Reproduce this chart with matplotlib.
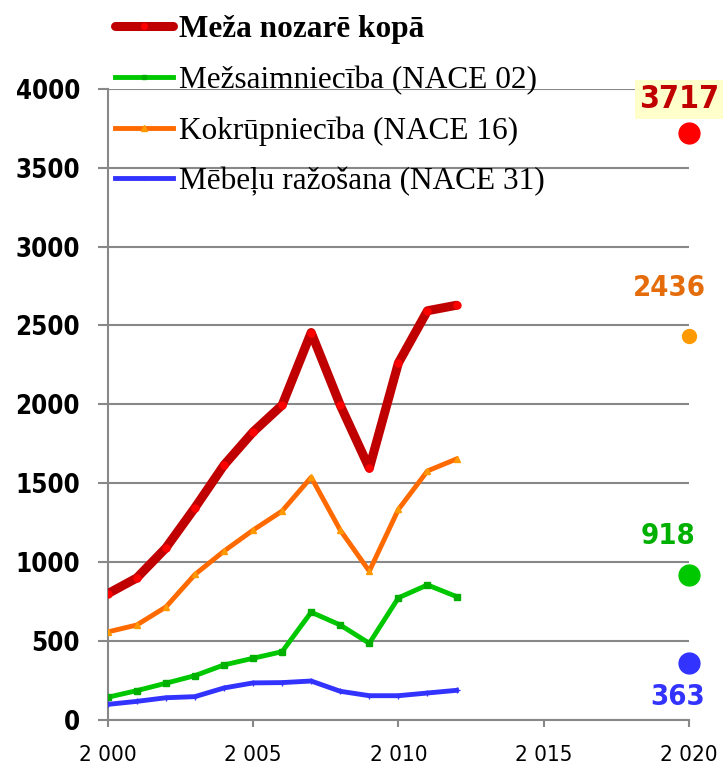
import numpy as np
import matplotlib
matplotlib.use("Agg")
import matplotlib.pyplot as plt
from matplotlib.ticker import FuncFormatter

years = list(range(2000, 2013))
kopa = [800, 900, 1090, 1345, 1615, 1825, 1995, 2455, 1995, 1595, 2262, 2593, 2628]
nace02 = [144, 186, 233, 281, 349, 391, 433, 683, 602, 486, 774, 856, 782]
nace16 = [558, 602, 716, 922, 1070, 1203, 1324, 1538, 1203, 943, 1334, 1578, 1654]
nace31 = [99, 118, 141, 148, 203, 235, 237, 247, 182, 154, 154, 171, 188]

target_year = 2020
targets = [3717, 918, 2436, 363]
labels = ["Meža nozarē kopā", "Mežsaimniecība (NACE 02)",
          "Kokrūpniecība (NACE 16)", "Mēbeļu ražošana (NACE 31)"]

cond = dict(family="DejaVu Sans", stretch="condensed")

fig = plt.figure(figsize=(7.23, 7.68), dpi=100)
ax = fig.add_axes([0.149, 0.0625, 0.804, 0.822])

# lines
l1, = ax.plot(years, kopa, color="#C00000", lw=6.5, marker="o", ms=5,
              mfc="#FF0000", mec="#FF0000", solid_capstyle="round", zorder=3)
l2, = ax.plot(years, nace02, color="#00C800", lw=3.5, marker="s", ms=4,
              mfc="#00B000", mec="#00B000", zorder=3)
l3, = ax.plot(years, nace16, color="#FF6A00", lw=3.5, marker="^", ms=5,
              mfc="#FF9900", mec="#FF9900", zorder=3)
l4, = ax.plot(years, nace31, color="#3333FF", lw=3.5, marker="+", ms=4,
              mec="#3333FF", zorder=3)

# 2020 targets
dot_cols = ["#FF0000", "#00C800", "#FF9900", "#3333FF"]
dot_sizes = [15, 15, 10, 15]
for v, c, s in zip(targets, dot_cols, dot_sizes):
    ax.plot([target_year], [v], "o", color=c, ms=s, clip_on=False, zorder=4)

ax.annotate(f"{targets[0]}", (target_year, targets[0]), xytext=(-10, 34),
            textcoords="offset pixels", ha="center", va="center",
            fontsize=23, fontweight="bold", color="#C00000", **cond,
            bbox=dict(boxstyle="square,pad=0.12", fc="#FFFFCC", ec="none"),
            annotation_clip=False)
ax.annotate(f"{targets[2]}", (target_year, targets[2]), xytext=(-20, 48),
            textcoords="offset pixels", ha="center", va="center",
            fontsize=21, fontweight="bold", color="#E46C0A", **cond,
            annotation_clip=False)
ax.annotate(f"{targets[1]}", (target_year, targets[1]), xytext=(-21, 39),
            textcoords="offset pixels", ha="center", va="center",
            fontsize=21, fontweight="bold", color="#00B000", **cond,
            annotation_clip=False)
ax.annotate(f"{targets[3]}", (target_year, targets[3]), xytext=(-11, -34),
            textcoords="offset pixels", ha="center", va="center",
            fontsize=21, fontweight="bold", color="#3333FF", **cond,
            annotation_clip=False)

ax.set_xlim(2000, 2020)
ax.set_ylim(0, 4000)
ax.set_xticks(range(2000, 2021, 5))
ax.set_yticks(range(0, 4001, 500))
ax.xaxis.set_major_formatter(FuncFormatter(lambda v, p: f"{int(v):,}".replace(",", " ")))
ax.grid(axis="y", color="#888888", lw=1.5)
ax.set_axisbelow(True)
for s in ["top", "right"]:
    ax.spines[s].set_visible(False)
for s in ["left", "bottom"]:
    ax.spines[s].set_color("#888888")
    ax.spines[s].set_linewidth(1.5)
ax.tick_params(axis="y", length=7, color="#888888", width=1.5, pad=13)
ax.tick_params(axis="x", length=5, color="#888888", width=1.5, pad=13)
for t in ax.get_yticklabels():
    t.set_fontfamily("DejaVu Sans")
    t.set_fontstretch("condensed")
    t.set_fontweight("bold")
    t.set_fontsize(18.5)
for t in ax.get_xticklabels():
    t.set_fontfamily("DejaVu Sans")
    t.set_fontstretch("condensed")
    t.set_fontsize(16)

leg = fig.legend([l1, l2, l3, l4], labels, loc="upper left",
                 bbox_to_anchor=(0.159, 0.98), frameon=False, borderpad=0,
                 borderaxespad=0,
                 prop=dict(family="Liberation Serif", size=22.5),
                 handlelength=1.85, handletextpad=0.2, labelspacing=0.68,
                 markerscale=0.8)
leg.get_texts()[0].set_fontweight("bold")

fig.savefig("out.png", dpi=100)
